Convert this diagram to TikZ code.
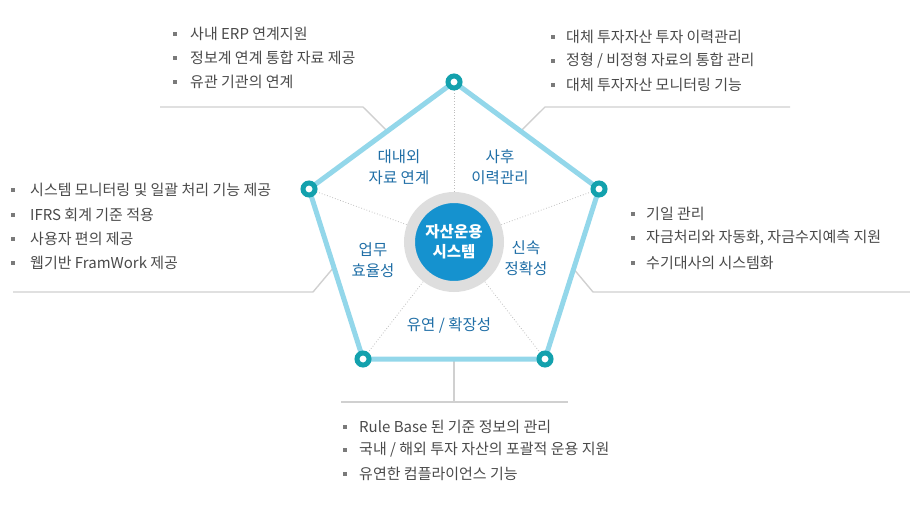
\documentclass[tikz,border=0pt]{standalone}
\usepackage{fontspec}
\setmainfont{Noto Sans CJK KR}
\usetikzlibrary{calc}
\definecolor{pentblue}{HTML}{93D7EA}
\definecolor{ringteal}{HTML}{13A1AD}
\definecolor{ringgray}{HTML}{DEDEDE}
\definecolor{corefill}{HTML}{1592CF}
\definecolor{lblblue}{HTML}{1F6EA6}
\definecolor{txtgray}{HTML}{4A4A4A}
\definecolor{bulgray}{HTML}{7A7A7A}
\definecolor{linegray}{HTML}{D0D0D0}
\definecolor{dotgray}{HTML}{BDBDBD}
\tikzset{
  itemtext/.style={anchor=west, text=txtgray, inner sep=0pt, font=\fontsize{15}{17}\selectfont},
  bulletsq/.style={fill=bulgray, minimum size=4pt, inner sep=0pt, rectangle},
  lbl/.style={text=lblblue, align=center, inner sep=0pt, font=\fontsize{15.5}{20.5}\selectfont},
  vtx/.style={circle, draw=ringteal, fill=white, line width=5pt, minimum size=12pt, inner sep=0pt},
  pentline/.style={draw=pentblue, line width=5pt, line join=round},
  conn/.style={draw=linegray, line width=1.4pt},
  dotline/.style={draw=dotgray, line width=0.8pt, dotted}
}
\begin{document}
\begin{tikzpicture}[x=1pt,y=-1pt]
\useasboundingbox (0,0) rectangle (910,505);
% vertex positions
\coordinate (pT) at (454,82);
\coordinate (pR) at (599,189);
\coordinate (pBR) at (545,359);
\coordinate (pBL) at (363,359);
\coordinate (pL) at (309,189);
\coordinate (ctr) at (454,242);
% connector coordinates
\coordinate (tlA) at (160,107);
\coordinate (tlB) at (363,107);
\coordinate (tlC) at ($(pT)!0.46!(pL)$);
\coordinate (trA) at (790,107);
\coordinate (trB) at (545,107);
\coordinate (trC) at ($(pT)!0.46!(pR)$);
\coordinate (llA) at (13,292);
\coordinate (llB) at (313,292);
\coordinate (llC) at ($(pL)!0.46!(pBL)$);
\coordinate (rlA) at (910,292);
\coordinate (rlB) at (593,292);
\coordinate (rlC) at ($(pR)!0.47!(pBR)$);
\coordinate (bmA) at ($(pBL)!0.5!(pBR)$);
\coordinate (bmB) at (454,402);
\coordinate (bmL) at (341,402);
\coordinate (bmR) at (568,402);
% connectors
\draw[conn] (tlA) -- (tlB) -- (tlC);
\draw[conn] (trA) -- (trB) -- (trC);
\draw[conn] (llA) -- (llB) -- (llC);
\draw[conn] (rlA) -- (rlB) -- (rlC);
\draw[conn] (bmA) -- (bmB);
\draw[conn] (bmL) -- (bmR);
% dotted spokes
\foreach \p in {pT,pR,pBR,pBL,pL} \draw[dotline] (ctr) -- (\p);
% pentagon
\draw[pentline] (pT) -- (pR) -- (pBR) -- (pBL) -- (pL) -- cycle;
% center
\node[circle, fill=corefill, draw=ringgray, line width=11pt, minimum size=89pt, inner sep=0pt,
      text=white, align=center, font=\fontsize{15.5}{20}\selectfont\bfseries] (core) at (ctr) {자산운용\\시스템};
% vertices
\node[vtx] (vT) at (pT) {};
\node[vtx] (vR) at (pR) {};
\node[vtx] (vBR) at (pBR) {};
\node[vtx] (vBL) at (pBL) {};
\node[vtx] (vL) at (pL) {};
% labels
\node[lbl] (l1) at (399,167) {대내외\\자료 연계};
\node[lbl] (l2) at (500,167) {사후\\이력관리};
\node[lbl] (l3) at (373,260) {업무\\효율성};
\node[lbl] (l4) at (526,258) {신속\\정확성};
\node[lbl] (l5) at (449,325) {유연 / 확장성};
% top-left list
\node[bulletsq] (b11) at (175,34) {}; \node[itemtext] (t11) at (190,34) {사내 ERP 연계지원};
\node[bulletsq] (b12) at (175,58) {}; \node[itemtext] (t12) at (190,58) {정보계 연계 통합 자료 제공};
\node[bulletsq] (b13) at (175,82) {}; \node[itemtext] (t13) at (190,82) {유관 기관의 연계};
% top-right list
\node[bulletsq] (b21) at (553,37) {}; \node[itemtext] (t21) at (566,37) {대체 투자자산 투자 이력관리};
\node[bulletsq] (b22) at (553,61) {}; \node[itemtext] (t22) at (566,61) {정형 / 비정형 자료의 통합 관리};
\node[bulletsq] (b23) at (553,85) {}; \node[itemtext] (t23) at (566,85) {대체 투자자산 모니터링 기능};
% left list
\node[bulletsq] (b31) at (13,190) {}; \node[itemtext] (t31) at (30,190) {시스템 모니터링 및 일괄 처리 기능 제공};
\node[bulletsq] (b32) at (13,215) {}; \node[itemtext] (t32) at (30,215) {IFRS 회계 기준 적용};
\node[bulletsq] (b33) at (13,239) {}; \node[itemtext] (t33) at (30,239) {사용자 편의 제공};
\node[bulletsq] (b34) at (13,263) {}; \node[itemtext] (t34) at (30,263) {웹기반 FramWork 제공};
% right list
\node[bulletsq] (b41) at (633,214) {}; \node[itemtext] (t41) at (646,214) {기일 관리};
\node[bulletsq] (b42) at (633,238) {}; \node[itemtext] (t42) at (646,238) {자금처리와 자동화, 자금수지예측 지원};
\node[bulletsq] (b43) at (633,263) {}; \node[itemtext] (t43) at (646,263) {수기대사의 시스템화};
% bottom list
\node[bulletsq] (b51) at (345,427) {}; \node[itemtext] (t51) at (359,427) {Rule Base 된 기준 정보의 관리};
\node[bulletsq] (b52) at (345,450) {}; \node[itemtext] (t52) at (359,450) {국내 / 해외 투자 자산의 포괄적 운용 지원};
\node[bulletsq] (b53) at (345,474) {}; \node[itemtext] (t53) at (359,474) {유연한 컴플라이언스 기능};
\end{tikzpicture}
\end{document}
